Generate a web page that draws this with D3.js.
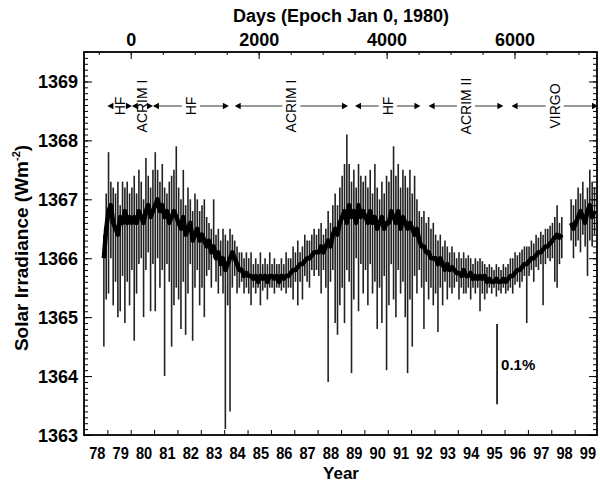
<!DOCTYPE html>
<html>
<head>
<meta charset="utf-8">
<script src="https://cdn.jsdelivr.net/npm/d3@7"></script>
<style>
body { margin: 0; background: #fff; }
svg text { font-family: "Liberation Sans", Arial, sans-serif; fill: #000; }
.tick line { stroke: #000; }
</style>
</head>
<body>
<div class="canvas"></div>
<script>
// composite irradiance, one sample every 0.1 yr starting 1978.85
var startYear = 1978.85;
var stepYear = 0.1;

var center = [
	1366.0, 1366.5,
	1366.8, 1366.9, 1366.6, 1366.5, 1366.4, 1366.7, 1366.6, 1366.8, 1366.6, 1366.7,
	1366.6, 1366.7, 1366.6, 1366.8, 1366.7, 1366.6, 1366.8, 1366.9, 1366.7, 1366.8,
	1366.9, 1367.0, 1366.8, 1366.9, 1366.7, 1366.8, 1366.6, 1366.7, 1366.8, 1366.7,
	1366.6, 1366.5, 1366.7, 1366.4, 1366.5, 1366.6, 1366.3, 1366.4, 1366.5, 1366.3,
	1366.4, 1366.3, 1366.2, 1366.3, 1366.1, 1366.2, 1366.0, 1366.1, 1365.9, 1366.0,
	1365.8, 1365.9, 1366.0, 1366.1, 1366.0, 1365.9, 1365.8, 1365.8, 1365.7, 1365.75,
	1365.7, 1365.7, 1365.65, 1365.7, 1365.6, 1365.7, 1365.65, 1365.7, 1365.6, 1365.7,
	1365.7, 1365.65, 1365.7, 1365.6, 1365.7, 1365.65, 1365.7, 1365.7, 1365.75, 1365.8,
	1365.8, 1365.85, 1365.9, 1365.9, 1365.95, 1366.0, 1366.0, 1366.05, 1366.1, 1366.1,
	1366.1, 1366.2, 1366.1, 1366.2, 1366.3, 1366.2, 1366.4, 1366.5, 1366.4, 1366.6,
	1366.7, 1366.8, 1366.6, 1366.9, 1366.7, 1366.8, 1366.6, 1366.9, 1366.7, 1366.8,
	1366.7, 1366.6, 1366.8, 1366.6, 1366.7, 1366.5, 1366.6, 1366.7, 1366.5, 1366.6,
	1366.6, 1366.8, 1366.7, 1366.6, 1366.8, 1366.5, 1366.7, 1366.6, 1366.5, 1366.6,
	1366.5, 1366.4, 1366.5, 1366.3, 1366.2, 1366.2, 1366.1, 1366.1, 1366.0, 1366.0,
	1366.0, 1365.9, 1366.0, 1365.9, 1365.8, 1365.9, 1365.8, 1365.85, 1365.8, 1365.75,
	1365.75, 1365.7, 1365.8, 1365.7, 1365.7, 1365.75, 1365.65, 1365.7, 1365.65, 1365.7,
	1365.65, 1365.7, 1365.6, 1365.65, 1365.6, 1365.6, 1365.65, 1365.6, 1365.6, 1365.65,
	1365.6, 1365.65, 1365.7, 1365.7, 1365.75, 1365.8, 1365.8, 1365.85, 1365.9, 1365.9,
	1365.95, 1366.0, 1366.0, 1366.05, 1366.1, 1366.1, 1366.15, 1366.2, 1366.2, 1366.25,
	1366.3, 1366.35, 1366.4, 1366.35, 1366.4, null, null, null, 1366.6, 1366.5,
	1366.6, 1366.7, 1366.8, 1366.7, 1366.6, 1366.8, 1366.9, 1366.7, 1366.8
];

var high = [
	1366.4, 1367.1,
	1367.8, 1367.3, 1367.2, 1367.1, 1367.3, 1366.9, 1367.3, 1367.2, 1367.3, 1367.1,
	1367.2, 1367.4, 1367.1, 1367.5, 1367.3, 1367.0, 1367.7, 1367.4, 1367.2, 1367.5,
	1367.8, 1367.5, 1367.3, 1367.6, 1367.2, 1367.1, 1367.3, 1367.4, 1367.5, 1367.9,
	1367.2, 1367.0, 1367.5, 1366.9, 1367.2, 1367.0, 1366.8, 1367.1, 1367.0, 1366.8,
	1366.9, 1367.0, 1366.7, 1366.6, 1366.5, 1367.0, 1366.4, 1366.5, 1366.3, 1366.5,
	1366.4, 1366.3, 1366.5, 1366.4, 1366.3, 1366.2, 1366.1, 1366.1, 1366.0, 1366.1,
	1366.0, 1366.1, 1365.9, 1366.0, 1365.9, 1366.1, 1365.9, 1366.0, 1365.9, 1366.1,
	1365.9, 1366.0, 1365.9, 1365.9, 1366.0, 1365.9, 1366.1, 1366.0, 1366.0, 1366.2,
	1366.1, 1366.3, 1366.1, 1366.2, 1366.4, 1366.3, 1366.3, 1366.4, 1366.5, 1366.4,
	1366.5, 1366.6, 1366.4, 1366.5, 1366.8, 1366.6, 1366.9, 1367.1, 1366.9, 1367.2,
	1367.4, 1367.6, 1368.1, 1367.6, 1367.3, 1367.5, 1367.2, 1367.6, 1367.4, 1367.3,
	1367.4, 1367.2, 1367.5, 1367.1, 1367.6, 1367.2, 1367.0, 1367.3, 1367.1, 1367.4,
	1367.3, 1367.5, 1367.9, 1367.4, 1367.6, 1367.2, 1367.5, 1367.4, 1367.2, 1367.5,
	1367.1, 1367.4, 1367.0, 1366.8, 1366.7, 1366.8, 1366.6, 1366.7, 1366.5, 1366.6,
	1366.4, 1366.3, 1366.4, 1366.2, 1366.3, 1366.2, 1366.1, 1366.2, 1366.1, 1366.0,
	1366.1, 1366.0, 1366.1, 1366.0, 1366.05, 1366.0, 1365.9, 1366.0, 1365.95, 1366.0,
	1365.95, 1365.9, 1365.85, 1365.9, 1365.85, 1365.8, 1365.9, 1365.85, 1365.8, 1365.9,
	1365.85, 1365.9, 1366.0, 1366.0, 1366.1, 1366.05, 1366.1, 1366.15, 1366.2, 1366.2,
	1366.2, 1366.3, 1366.25, 1366.4, 1366.35, 1366.45, 1366.4, 1366.5, 1366.5, 1366.55,
	1366.6, 1366.7, 1366.9, 1366.6, 1366.7, null, null, null, 1367.0, 1366.9,
	1367.0, 1367.2, 1367.1, 1367.3, 1367.0, 1367.2, 1367.5, 1367.3, 1367.2
];

var low = [
	1364.5, 1365.3,
	1365.4, 1366.0, 1365.2, 1365.6, 1365.0, 1365.1, 1365.7, 1364.9, 1365.6, 1365.2,
	1365.8, 1364.6, 1365.4, 1365.9, 1366.0, 1365.0, 1365.8, 1366.1, 1365.1, 1365.9,
	1365.1, 1366.0, 1365.5, 1365.8, 1364.0, 1365.9, 1365.6, 1364.5, 1365.2, 1365.5,
	1365.3, 1364.8, 1365.6, 1364.7, 1365.4, 1365.9, 1364.6, 1365.5, 1365.8, 1365.2,
	1365.5, 1365.0, 1365.7, 1365.8, 1365.5, 1366.0, 1365.6, 1365.4, 1365.7, 1365.4,
	1363.1, 1365.2, 1363.4, 1365.5, 1365.7, 1365.4, 1365.5, 1365.6, 1365.4, 1365.5,
	1365.4, 1365.2, 1365.5, 1365.4, 1365.5, 1365.2, 1365.45, 1365.5, 1365.3, 1365.5,
	1365.5, 1365.4, 1365.5, 1365.5, 1365.45, 1365.5, 1365.4, 1365.5, 1365.5, 1365.3,
	1365.6, 1365.2, 1365.6, 1365.3, 1365.7, 1365.6, 1365.5, 1365.8, 1365.7, 1365.8,
	1365.7, 1365.4, 1365.8, 1365.5, 1363.9, 1365.6, 1365.8, 1364.9, 1364.7, 1365.2,
	1365.5, 1364.9, 1365.8, 1365.6, 1364.05, 1365.3, 1366.0, 1365.1, 1365.9, 1365.4,
	1365.8, 1365.2, 1365.9, 1365.4, 1365.6, 1364.8, 1365.5, 1364.9, 1365.7, 1364.1,
	1365.2, 1365.9, 1365.3, 1365.0, 1365.8, 1365.4, 1365.6, 1365.0, 1364.05, 1365.3,
	1364.5, 1365.7, 1365.4, 1365.8, 1365.5, 1364.8, 1365.6, 1365.3, 1365.5, 1365.2,
	1365.4, 1364.75, 1365.5, 1365.2, 1365.6, 1365.3, 1365.5, 1365.4, 1365.5, 1365.6,
	1365.3, 1365.5, 1365.4, 1365.4, 1365.5, 1365.3, 1365.5, 1365.4, 1365.5, 1365.1,
	1365.4, 1365.3, 1365.4, 1365.5, 1365.4, 1365.5, 1365.35, 1365.45, 1365.4, 1365.5,
	1365.4, 1365.45, 1365.5, 1365.4, 1365.55, 1365.6, 1365.5, 1365.6, 1365.7, 1364.9,
	1365.7, 1365.8, 1365.6, 1365.85, 1365.8, 1365.9, 1365.2, 1365.9, 1366.0, 1365.95,
	1366.0, 1365.6, 1365.5, 1365.9, 1366.0, null, null, null, 1366.3, 1366.0,
	1366.2, 1366.3, 1366.1, 1366.4, 1366.2, 1365.7, 1366.3, 1366.2, 1366.4
];

// axis labels
var irradianceTicks = [1363, 1364, 1365, 1366, 1367, 1368, 1369];
var dayTicks = [0, 2000, 4000, 6000];
var yearLabels = ["78","79","80","81","82","83","84","85","86","87","88",
	"89","90","91","92","93","94","95","96","97","98","99"];

// instrument segments used in the composite
var instNames = ["HF", "ACRIM I", "HF", "ACRIM I", "HF", "ACRIM II", "VIRGO"];
var instStart = [1979.0, 1980.05, 1980.95, 1984.45, 1989.6, 1992.75, 1996.3];
var instEnd   = [1980.05, 1980.95, 1984.2, 1989.3, 1992.4, 1995.95, 2000.0];

// 0.1% scale bar
var barYear = 1995.68;
var barLow = 1363.52;
var barPct = 0.1;


d3.select(".canvas").selectAll("*").remove();

var svg = d3.select(".canvas")
	.append("svg")
	.attr("width", 600)
	.attr("height", 485);

var x = d3.scaleLinear().domain([1978, 2000]).range([84, 598]);
var y = d3.scaleLinear().domain([1363, 1369.5]).range([435, 52]);
// days since Jan 0 1980 on the same pixel range
var xDays = d3.scaleLinear()
	.domain([(1978 - 1980) * 365.25, (2000 - 1980) * 365.25])
	.range([84, 598]);

var samples = center.map(function(c, i){
	return {t: startYear + i * stepYear, c: c, h: high[i], l: low[i]};
});

// spikes
svg.append("g")
	.selectAll("line")
	.data(samples.filter(function(d){ return d.c != null; }))
	.join("line")
	.attr("x1", function(d){ return x(d.t); })
	.attr("x2", function(d){ return x(d.t); })
	.attr("y1", function(d){ return y(d.l); })
	.attr("y2", function(d){ return y(d.h); })
	.attr("stroke", "#222")
	.attr("stroke-width", 1.6);

// running value
svg.append("path")
	.datum(samples)
	.attr("fill", "none")
	.attr("stroke", "#000")
	.attr("stroke-width", 4.5)
	.attr("stroke-linejoin", "round")
	.attr("d", d3.line()
		.defined(function(d){ return d.c != null; })
		.x(function(d){ return x(d.t); })
		.y(function(d){ return y(d.c); }));

// AXES
var minorY = d3.range(1363, 1369.55, 0.1);

svg.append("g")
	.attr("transform", "translate(84,0)")
	.call(d3.axisLeft(y).tickValues(minorY).tickSize(-4).tickFormat(""))
	.call(function(g){ g.select(".domain").remove(); });

svg.append("g")
	.attr("class", "ylab")
	.attr("transform", "translate(84,0)")
	.call(d3.axisLeft(y).tickValues(irradianceTicks).tickSize(-8).tickPadding(6).tickFormat(d3.format("d")))
	.call(function(g){
		g.select(".domain").remove();
		g.selectAll("text")
			.attr("font-size", 18)
			.attr("font-weight", "bold")
			.attr("dy", "0.36em");
	});

svg.append("g")
	.attr("transform", "translate(597,0)")
	.call(d3.axisRight(y).tickValues(minorY).tickSize(-4).tickFormat(""))
	.call(function(g){ g.select(".domain").remove(); });

svg.append("g")
	.attr("transform", "translate(597,0)")
	.call(d3.axisRight(y).tickValues(irradianceTicks).tickSize(-8).tickFormat(""))
	.call(function(g){ g.select(".domain").remove(); });

// top: days
svg.append("g")
	.attr("transform", "translate(0,52)")
	.call(d3.axisTop(xDays).tickValues(d3.range(-500, 7300, 500)).tickSize(-3).tickFormat(""))
	.call(function(g){ g.select(".domain").remove(); });

svg.append("g")
	.attr("transform", "translate(0,52)")
	.call(d3.axisTop(xDays).tickValues(dayTicks).tickSize(-7).tickPadding(6).tickFormat(d3.format("d")))
	.call(function(g){
		g.select(".domain").remove();
		g.selectAll("text")
			.attr("font-size", 18)
			.attr("font-weight", "bold");
	});

// bottom: years
svg.append("g")
	.attr("transform", "translate(0,435)")
	.call(d3.axisBottom(x).tickValues(d3.range(1979, 2000)).tickSize(-5).tickFormat(""))
	.call(function(g){ g.select(".domain").remove(); });

svg.append("g")
	.attr("transform", "translate(0,435)")
	.call(d3.axisBottom(x)
		.tickValues(yearLabels.map(function(s){ return 1900 + (+s) + 0.55; }))
		.tickSize(0).tickPadding(12)
		.tickFormat(function(d, i){ return yearLabels[i]; }))
	.call(function(g){
		g.select(".domain").remove();
		g.selectAll("text")
			.attr("font-size", 17)
			.attr("font-weight", "bold")
			.attr("transform", "scale(0.86,1)");
	});

// frame
svg.append("rect")
	.attr("x", 84)
	.attr("y", 52)
	.attr("width", 513)
	.attr("height", 383)
	.attr("fill", "none")
	.attr("stroke", "#000")
	.attr("stroke-width", 1.8);

// TITLES
svg.append("text")
	.attr("x", 341)
	.attr("y", 22)
	.attr("text-anchor", "middle")
	.attr("font-size", 18)
	.attr("font-weight", "bold")
	.text("Days (Epoch Jan 0, 1980)");

svg.append("text")
	.attr("x", 341)
	.attr("y", 479)
	.attr("text-anchor", "middle")
	.attr("font-size", 17)
	.attr("font-weight", "bold")
	.text("Year");

var ytitle = svg.append("text")
	.attr("transform", "translate(28,248) rotate(-90)")
	.attr("text-anchor", "middle")
	.attr("font-size", 19)
	.attr("font-weight", "bold");
ytitle.append("tspan").text("Solar Irradiance (Wm");
ytitle.append("tspan").attr("font-size", 11).attr("dy", -8).text("-2");
ytitle.append("tspan").attr("dy", 8).text(")");

// INSTRUMENT ROW
var rowY = 106;
var inst = instNames.map(function(n, i){
	return {name: n, x0: x(instStart[i]), x1: x(instEnd[i])};
});

var rows = svg.append("g").attr("class", "instruments");

inst.forEach(function(d){
	var xm = (d.x0 + d.x1) / 2;
	var wide = d.x1 - d.x0 > 20;
	if (wide) {
		rows.append("line")
			.attr("x1", d.x0 + 5).attr("x2", xm - 9)
			.attr("y1", rowY).attr("y2", rowY)
			.attr("stroke", "#000").attr("stroke-width", 0.8);
		rows.append("line")
			.attr("x1", xm + 9).attr("x2", d.x1 - 5)
			.attr("y1", rowY).attr("y2", rowY)
			.attr("stroke", "#000").attr("stroke-width", 0.8);
		rows.append("path")
			.attr("d", "M" + d.x0 + "," + rowY + "l6,-3.2v6.4z")
			.attr("fill", "#000");
		rows.append("path")
			.attr("d", "M" + d.x1 + "," + rowY + "l-6,-3.2v6.4z")
			.attr("fill", "#000");
	}
	rows.append("text")
		.attr("transform", "translate(" + xm + "," + rowY + ") rotate(-90)")
		.attr("text-anchor", "middle")
		.attr("dy", "0.36em")
		.attr("font-size", 14)
		.text(d.name);
});

// SCALE BAR
svg.append("line")
	.attr("x1", x(barYear)).attr("x2", x(barYear))
	.attr("y1", y(barLow))
	.attr("y2", y(barLow + 1365.5 * barPct / 100))
	.attr("stroke", "#000")
	.attr("stroke-width", 1.6);

svg.append("text")
	.attr("x", x(barYear) + 4)
	.attr("y", y(barLow + 1365.5 * barPct / 200))
	.attr("dy", "0.36em")
	.attr("font-size", 15)
	.attr("font-weight", "bold")
	.text("0.1%");
</script>
</body>
</html>
